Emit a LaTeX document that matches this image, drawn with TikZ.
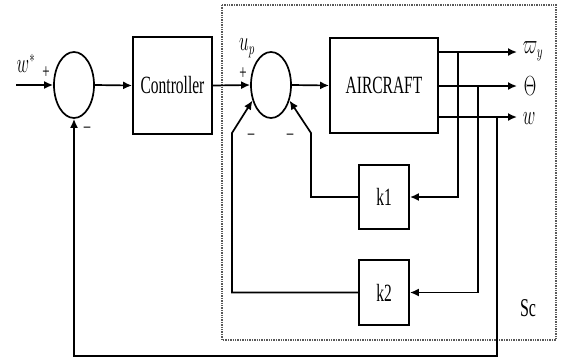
\documentclass[tikz,border=0pt]{standalone}
\usepackage{fontspec}
\setmainfont{Liberation Serif}
\usepackage{graphicx}
\usetikzlibrary{arrows.meta,shapes.geometric}
\newcommand{\stt}[1]{\scalebox{1}[1.6]{#1}}
\begin{document}
\begin{tikzpicture}[x=1pt,y=-1pt,
  line width=1.7pt,
  arr/.style={-{Latex[length=9pt,width=8pt]}},
  blk/.style={draw,rectangle,inner sep=0pt,line width=1.8pt},
  summ/.style={draw,ellipse,minimum width=40pt,minimum height=66pt,inner sep=0pt,line width=1.7pt},
  lbl/.style={inner sep=0pt,font=\fontsize{16}{18}\selectfont},
  sg/.style={inner sep=0pt,font=\fontsize{13}{15}\selectfont}]
\useasboundingbox (0,0) rectangle (561,360);
% dashed subsystem box
\draw[gray!70!black,line width=1.4pt,densely dotted] (222,5) rectangle (556,340);
% blocks
\node[summ] (s1) at (74,85) {};
\node[blk,minimum width=79pt,minimum height=97pt] (ctrl) at (172.5,85.5) {\fontsize{15.5}{18}\selectfont\stt{Controller}};
\node[summ] (s2) at (271,85) {};
\node[blk,minimum width=108pt,minimum height=95pt] (ac) at (384,85.5) {\fontsize{15.5}{18}\selectfont\stt{AIRCRAFT}};
\node[blk,minimum width=50pt,minimum height=64pt] (k1) at (384,197) {\fontsize{15.5}{18}\selectfont\stt{k1}};
\node[blk,minimum width=50pt,minimum height=65pt] (k2) at (384,292.5) {\fontsize{15.5}{18}\selectfont\stt{k2}};
% coordinates
\coordinate (in) at (16,85);
\coordinate (o1) at (517,52);
\coordinate (o2) at (517,86);
\coordinate (o3) at (517,117);
\coordinate (t1) at (458,52);
\coordinate (t2) at (478,86);
\coordinate (t3) at (497,117);
\coordinate (b1) at (311,133);
\coordinate (b2) at (232,133);
% main path
\draw[arr] (in) -- (s1.west);
\draw[arr] (s1.east) -- (ctrl.west);
\draw[arr] (ctrl.east) -- (s2.west);
\draw[arr] (s2.east) -- (ac.west);
% outputs
\draw[arr] (ac.east |- o1) -- (o1);
\draw[arr] (ac.east |- o2) -- (o2);
\draw[arr] (ac.east |- o3) -- (o3);
% feedback k1
\draw[arr] (t1) -- (t1 |- k1.east) -- (k1.east);
\draw[arr] (k1.west) -- (b1 |- k1.west) -- (b1) -- (s2.-40);
% feedback k2
\draw[arr] (t2) -- (t2 |- k2.east) -- (k2.east);
\draw[arr] (k2.west) -- (b2 |- k2.west) -- (b2) -- (s2.-140);
% outer loop
\draw[arr] (t3) -- (497,356) -- (74,356) -- (s1.south);
% labels
\node[lbl] at (26,63) {\stt{$w^{*}$}};
\node[sg] at (46,73) {\stt{+}};
\node[sg] at (87,130) {\stt{--}};
\node[lbl] at (247,48) {\stt{$u_{p}$}};
\node[sg] at (243,74) {\stt{+}};
\node[sg] at (251,137) {\stt{--}};
\node[sg] at (290,137) {\stt{--}};
\node[lbl,anchor=west] at (522,51) {\stt{$\varpi_{y}$}};
\node[lbl,anchor=west] at (523,86) {\stt{$\Theta$}};
\node[lbl,anchor=west] at (522,119) {\stt{$w$}};
\node[lbl] at (528,308) {\stt{Sc}};
\end{tikzpicture}
\end{document}
